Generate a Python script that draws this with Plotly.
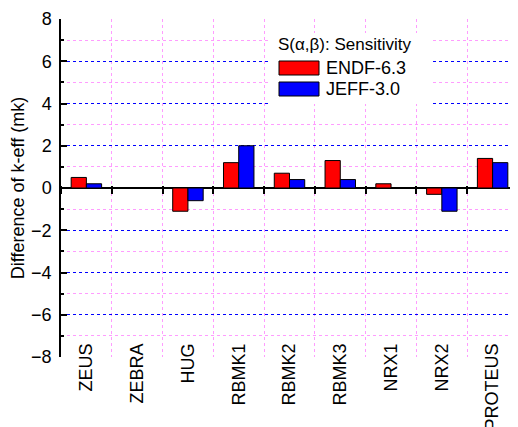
import plotly.graph_objects as go

# ---- data ----
categories = ["ZEUS", "ZEBRA", "HUG", "RBMK1", "RBMK2", "RBMK3", "NRX1", "NRX2", "PROTEUS"]
endf_vals = [0.5, 0.0, -1.1, 1.2, 0.7, 1.3, 0.2, -0.3, 1.4]
jeff_vals = [0.2, 0.0, -0.6, 2.0, 0.4, 0.4, 0.0, -1.1, 1.2]
series_names = ["ENDF-6.3", "JEFF-3.0"]
legend_title = "S(α,β): Sensitivity"
y_title = "Difference of k-eff (mk)"
y_range = [-8, 8]
y_major = [-8, -6, -4, -2, 0, 2, 4, 6, 8]
y_minor = [-7, -5, -3, -1, 1, 3, 5, 7]

# ---- layout geometry (page has an 8px body margin) ----
OFF = 8
W, H = 518 - OFF, 427 - OFF
PLOT_L, PLOT_R, PLOT_T, PLOT_B = 61, 518, 19, 357   # in window pixels
ML = PLOT_L - OFF
MR = 0
MT = PLOT_T - OFF
MB = (427 - OFF) - (PLOT_B - OFF)
PW = PLOT_R - PLOT_L
PH = PLOT_B - PLOT_T


def fx(x):
    return (x - PLOT_L) / PW


def fy(y):
    return (PLOT_B - y) / PH


FONT = "Liberation Sans, Arial, sans-serif"
PINK = "#FF9CFF"
BLUE = "#0000FF"
RED = "#FF0000"
BLU = "#0000FF"

fig = go.Figure()
fig.add_trace(go.Bar(x=categories, y=endf_vals, name=series_names[0],
                     marker=dict(color=RED, line=dict(color="#000000", width=1))))
fig.add_trace(go.Bar(x=categories, y=jeff_vals, name=series_names[1],
                     marker=dict(color=BLU, line=dict(color="#000000", width=1))))
# helper trace so the zero-line tick axis is drawn
fig.add_trace(go.Scatter(x=categories, y=[0] * len(categories), xaxis="x2", mode="markers",
                         marker=dict(opacity=0), showlegend=False, hoverinfo="skip"))

# legend drawn by hand
shapes = [
    dict(type="rect", xref="paper", yref="paper", x0=fx(268), x1=fx(433), y0=fy(104), y1=fy(33),
         fillcolor="white", line=dict(width=0), layer="above"),
    dict(type="rect", xref="paper", yref="paper", x0=fx(279), x1=fx(319), y0=fy(75), y1=fy(61),
         fillcolor=RED, line=dict(color="black", width=1), layer="above"),
    dict(type="rect", xref="paper", yref="paper", x0=fx(279), x1=fx(319), y0=fy(96), y1=fy(82),
         fillcolor=BLU, line=dict(color="black", width=1), layer="above"),
]
annotations = [
    dict(text=legend_title, xref="paper", yref="paper", x=fx(276), y=fy(45), xanchor="left",
         yanchor="middle", showarrow=False, font=dict(size=17, color="black", family=FONT)),
    dict(text=series_names[0], xref="paper", yref="paper", x=fx(324), y=fy(68), xanchor="left",
         yanchor="middle", showarrow=False, font=dict(size=18, color="black", family=FONT)),
    dict(text=series_names[1], xref="paper", yref="paper", x=fx(324), y=fy(89), xanchor="left",
         yanchor="middle", showarrow=False, font=dict(size=18, color="black", family=FONT)),
]

fig.update_layout(
    width=W, height=H,
    margin=dict(l=ML, r=MR, t=MT, b=MB, pad=0, autoexpand=False),
    paper_bgcolor="white", plot_bgcolor="white",
    font=dict(family=FONT, color="black", size=17),
    barmode="group", bargap=0.4, bargroupgap=0.0,
    showlegend=False,
    shapes=shapes, annotations=annotations,
    xaxis=dict(type="category", categoryarray=categories, categoryorder="array",
               range=[-0.5, len(categories) - 0.5], automargin=False,
               tickson="boundaries", ticks="", showline=False, zeroline=False,
               showgrid=True, gridcolor=PINK, griddash="dot", gridwidth=1,
               tickangle=-90, tickfont=dict(size=18), ticklabelstandoff=-18),
    xaxis2=dict(type="category", categoryarray=categories, categoryorder="array",
                range=[-0.5, len(categories) - 0.5], overlaying="x", anchor="free",
                position=fy(185), side="bottom", tickson="boundaries", ticks="outside",
                ticklen=8, tickwidth=1.5, tickcolor="black", showticklabels=False,
                showgrid=False, showline=False, zeroline=False, automargin=False),
    yaxis=dict(range=y_range, tickmode="array", tickvals=y_major, ticks="inside", ticklen=6,
               tickwidth=1.5, tickcolor="black", showline=True, linecolor="black", linewidth=1.5,
               showgrid=True, gridcolor=BLUE, griddash="dot", gridwidth=1,
               zeroline=True, zerolinecolor="black", zerolinewidth=1.5, automargin=False,
               tickfont=dict(size=18), ticklabelstandoff=4,
               minor=dict(tickmode="array", tickvals=y_minor, ticks="inside", ticklen=3,
                          tickcolor="black", showgrid=True, gridcolor=PINK, griddash="dot",
                          gridwidth=1),
               title=dict(text=y_title, font=dict(size=18), standoff=8)),
)

fig.write_html("out.html")
